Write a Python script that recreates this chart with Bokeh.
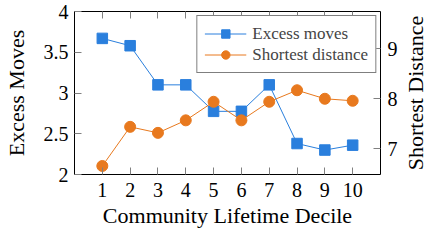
from bokeh.plotting import figure
from bokeh.layouts import row
from bokeh.models import Range1d, LinearAxis, FixedTicker, Legend, LegendItem, Title
from bokeh.embed import file_html
from bokeh.resources import INLINE

deciles = [1, 2, 3, 4, 5, 6, 7, 8, 9, 10]
excess_moves = [3.67, 3.58, 3.10, 3.10, 2.775, 2.775, 3.10, 2.38, 2.30, 2.36]
shortest_distance = [6.66, 7.44, 7.32, 7.57, 7.94, 7.57, 7.94, 8.17, 8.00, 7.96]

x_ticks = [1, 2, 3, 4, 5, 6, 7, 8, 9, 10]
left_ticks = [2, 2.5, 3, 3.5, 4]
left_tick_labels = ["2", "2.5", "3", "3.5", "4"]
right_ticks = [7, 8, 9]

x_label = "Community Lifetime Decile"
left_label = "Excess Moves"
right_label = "Shortest Distance"
series_names = ["Excess moves", "Shortest distance"]

BLUE = "#2a7fdd"
ORANGE = "#e8791e"
FONT = "Liberation Serif"
TICK_COLOR = "#808080"

p = figure(width=400, height=230, output_backend="svg", toolbar_location=None,
           x_range=Range1d(0, 11), y_range=Range1d(2, 4),
           min_border_left=70, min_border_right=0, min_border_top=11, min_border_bottom=40)
p.extra_y_ranges = {"right": Range1d(6.49, 9.74)}

p.xgrid.visible = False
p.ygrid.visible = False
p.outline_line_color = "black"
p.outline_line_width = 1
p.background_fill_color = "white"
p.border_fill_color = "white"

def style_axis(ax):
    ax.major_tick_in = 7
    ax.major_tick_out = 0
    ax.minor_tick_in = 0
    ax.minor_tick_out = 0
    ax.major_tick_line_color = TICK_COLOR
    ax.axis_line_color = None
    ax.major_label_text_font = FONT
    ax.major_label_text_font_size = "20px"
    ax.major_label_text_color = "black"
    ax.axis_label_text_font = FONT
    ax.axis_label_text_font_size = "22px"
    ax.axis_label_text_font_style = "normal"
    ax.axis_label_text_color = "black"

# bottom axis
xa = p.xaxis[0]
style_axis(xa)
xa.ticker = FixedTicker(ticks=x_ticks)
xa.axis_label = x_label
xa.major_label_standoff = 8
xa.axis_label_standoff = 3

# left axis
ya = p.yaxis[0]
style_axis(ya)
ya.ticker = FixedTicker(ticks=left_ticks)
ya.major_label_overrides = {float(t): s for t, s in zip(left_ticks, left_tick_labels)}
ya.axis_label = left_label
ya.major_label_standoff = 6
ya.axis_label_standoff = 12

# top axis (ticks only)
top = LinearAxis(ticker=FixedTicker(ticks=x_ticks))
style_axis(top)
top.major_label_text_font_size = "0px"
top.major_label_text_color = None
top.major_label_standoff = 0
p.add_layout(top, "above")

# right axis (its title is drawn in a narrow side panel so it reads bottom-to-top)
ra = LinearAxis(y_range_name="right", ticker=FixedTicker(ticks=right_ticks))
style_axis(ra)
ra.major_label_standoff = 7
p.add_layout(ra, "right")

l1 = p.line(deciles, excess_moves, line_color=BLUE, line_width=1)
s1 = p.scatter(deciles, excess_moves, marker="square", size=10.5, fill_color=BLUE, line_color=BLUE)
l2 = p.line(deciles, shortest_distance, line_color=ORANGE, line_width=1, y_range_name="right")
s2 = p.scatter(deciles, shortest_distance, marker="circle", size=11, fill_color=ORANGE,
               line_color=ORANGE, y_range_name="right")

legend = Legend(items=[LegendItem(label=series_names[0], renderers=[l1, s1]),
                       LegendItem(label=series_names[1], renderers=[l2, s2])],
                location="top_right", margin=4)
legend.label_text_font = FONT
legend.label_text_font_size = "17px"
legend.glyph_width = 42
legend.glyph_height = 21
legend.label_height = 21
legend.label_standoff = 6
legend.spacing = 0
legend.padding = 7
legend.border_line_color = "black"
legend.border_line_width = 1
legend.background_fill_alpha = 1
p.add_layout(legend)

# side panel carrying the right-hand axis title
p2 = figure(width=28, height=230, output_backend="svg", toolbar_location=None,
            x_axis_location=None, y_axis_location=None,
            min_border_left=0, min_border_right=0, min_border_top=0, min_border_bottom=20)
p2.outline_line_color = None
p2.xgrid.visible = False
p2.ygrid.visible = False
p2.add_layout(Title(text=right_label, align="center", standoff=0,
                    text_font=FONT, text_font_size="22px", text_font_style="normal",
                    text_color="black"), "left")

layout = row(p, p2, spacing=0)
open("out.html", "w").write(file_html(layout, INLINE))
